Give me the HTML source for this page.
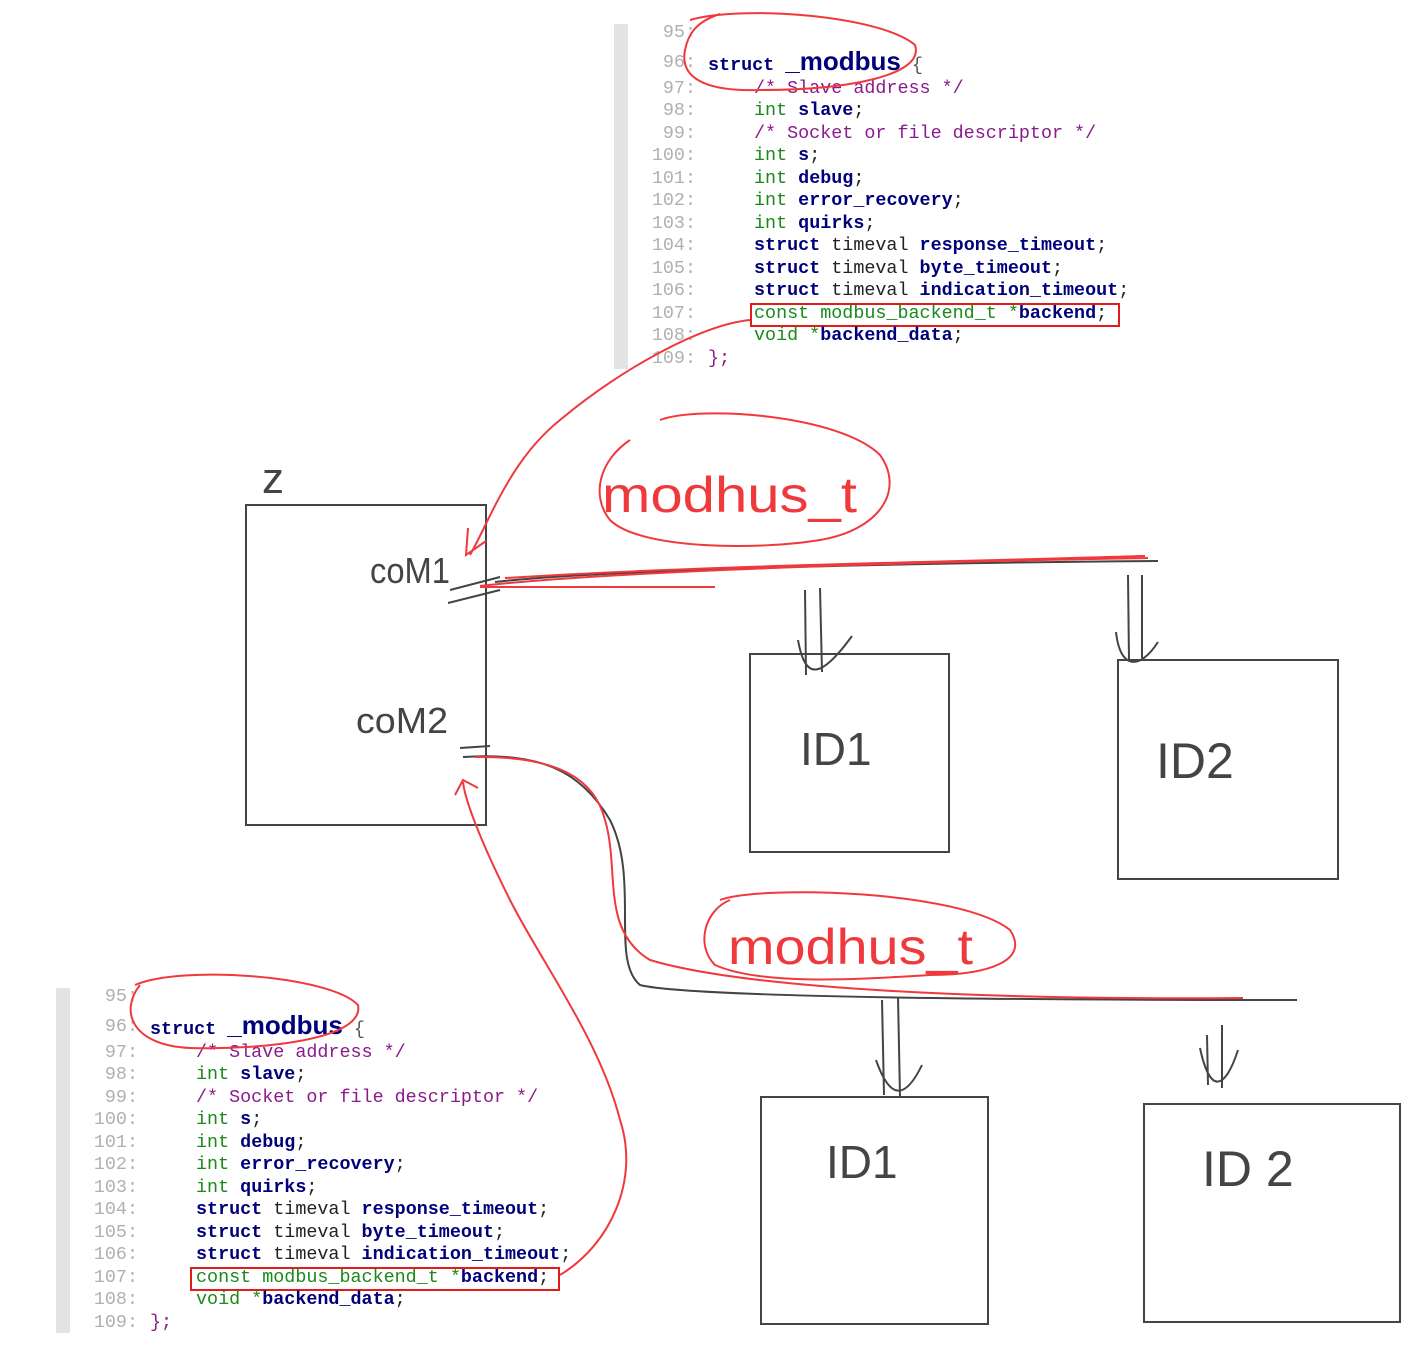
<!DOCTYPE html>
<html><head><meta charset="utf-8"><style>
body{margin:0;width:1427px;height:1348px;background:#fff;position:relative;overflow:hidden;font-family:"Liberation Mono",monospace}
.blk{position:absolute;width:560px;height:360px}
.bar{position:absolute;left:0;top:0;width:14px;height:345px;background:#e3e3e3}
.ln{position:absolute;left:14px;width:68px;text-align:right;color:#b0b0b0;font-size:18.4px;line-height:22.5px}
.cd{position:absolute;font-size:18.4px;line-height:22.5px;white-space:pre;color:#222}
.k{color:#1a8a1a}.b{color:#00007a;font-weight:bold}.c{color:#8b1a8b}.s{color:#00007a;font-weight:bold}
.big{font-family:"Liberation Sans",sans-serif;font-size:26px;font-weight:bold;color:#00007a}
.box{position:absolute;border:2px solid #e21b1b;}
svg{position:absolute;left:0;top:0}
</style></head><body>

<div class="blk" style="left:614px;top:24px">
<div class="bar"></div>
<div class="ln" style="top:-2px">95:</div>
<div class="ln" style="top:28px">96:</div>
<div class="ln" style="top:54px">97:</div>
<div class="ln" style="top:76px">98:</div>
<div class="ln" style="top:99px">99:</div>
<div class="ln" style="top:121px">100:</div>
<div class="ln" style="top:144px">101:</div>
<div class="ln" style="top:166px">102:</div>
<div class="ln" style="top:189px">103:</div>
<div class="ln" style="top:211px">104:</div>
<div class="ln" style="top:234px">105:</div>
<div class="ln" style="top:256px">106:</div>
<div class="ln" style="top:279px">107:</div>
<div class="ln" style="top:301px">108:</div>
<div class="ln" style="top:324px">109:</div>
<div class="cd" style="left:94px;top:26px"><span class="s">struct</span> <span class="big">_modbus</span> <span style="color:#555">{</span></div>
<div class="cd" style="left:140px;top:54px"><span class="c">/* Slave address */</span></div>
<div class="cd" style="left:140px;top:76px"><span class="k">int</span> <span class="b">slave</span>;</div>
<div class="cd" style="left:140px;top:99px"><span class="c">/* Socket or file descriptor */</span></div>
<div class="cd" style="left:140px;top:121px"><span class="k">int</span> <span class="b">s</span>;</div>
<div class="cd" style="left:140px;top:144px"><span class="k">int</span> <span class="b">debug</span>;</div>
<div class="cd" style="left:140px;top:166px"><span class="k">int</span> <span class="b">error_recovery</span>;</div>
<div class="cd" style="left:140px;top:189px"><span class="k">int</span> <span class="b">quirks</span>;</div>
<div class="cd" style="left:140px;top:211px"><span class="b">struct</span> timeval <span class="b">response_timeout</span>;</div>
<div class="cd" style="left:140px;top:234px"><span class="b">struct</span> timeval <span class="b">byte_timeout</span>;</div>
<div class="cd" style="left:140px;top:256px"><span class="b">struct</span> timeval <span class="b">indication_timeout</span>;</div>
<div class="cd" style="left:140px;top:279px"><span class="k">const modbus_backend_t *</span><span class="b">backend</span>;</div>
<div class="box" style="left:136px;top:279px;width:366px;height:20px"></div>
<div class="cd" style="left:140px;top:301px"><span class="k">void *</span><span class="b">backend_data</span>;</div>
<div class="cd" style="left:94px;top:324px"><span class="c">};</span></div>
</div>

<div class="blk" style="left:56px;top:988px">
<div class="bar"></div>
<div class="ln" style="top:-2px">95:</div>
<div class="ln" style="top:28px">96:</div>
<div class="ln" style="top:54px">97:</div>
<div class="ln" style="top:76px">98:</div>
<div class="ln" style="top:99px">99:</div>
<div class="ln" style="top:121px">100:</div>
<div class="ln" style="top:144px">101:</div>
<div class="ln" style="top:166px">102:</div>
<div class="ln" style="top:189px">103:</div>
<div class="ln" style="top:211px">104:</div>
<div class="ln" style="top:234px">105:</div>
<div class="ln" style="top:256px">106:</div>
<div class="ln" style="top:279px">107:</div>
<div class="ln" style="top:301px">108:</div>
<div class="ln" style="top:324px">109:</div>
<div class="cd" style="left:94px;top:26px"><span class="s">struct</span> <span class="big">_modbus</span> <span style="color:#555">{</span></div>
<div class="cd" style="left:140px;top:54px"><span class="c">/* Slave address */</span></div>
<div class="cd" style="left:140px;top:76px"><span class="k">int</span> <span class="b">slave</span>;</div>
<div class="cd" style="left:140px;top:99px"><span class="c">/* Socket or file descriptor */</span></div>
<div class="cd" style="left:140px;top:121px"><span class="k">int</span> <span class="b">s</span>;</div>
<div class="cd" style="left:140px;top:144px"><span class="k">int</span> <span class="b">debug</span>;</div>
<div class="cd" style="left:140px;top:166px"><span class="k">int</span> <span class="b">error_recovery</span>;</div>
<div class="cd" style="left:140px;top:189px"><span class="k">int</span> <span class="b">quirks</span>;</div>
<div class="cd" style="left:140px;top:211px"><span class="b">struct</span> timeval <span class="b">response_timeout</span>;</div>
<div class="cd" style="left:140px;top:234px"><span class="b">struct</span> timeval <span class="b">byte_timeout</span>;</div>
<div class="cd" style="left:140px;top:256px"><span class="b">struct</span> timeval <span class="b">indication_timeout</span>;</div>
<div class="cd" style="left:140px;top:279px"><span class="k">const modbus_backend_t *</span><span class="b">backend</span>;</div>
<div class="box" style="left:134px;top:279px;width:366px;height:20px"></div>
<div class="cd" style="left:140px;top:301px"><span class="k">void *</span><span class="b">backend_data</span>;</div>
<div class="cd" style="left:94px;top:324px"><span class="c">};</span></div>
</div>

<svg width="1427" height="1348" viewBox="0 0 1427 1348" fill="none">
<g stroke="#444" stroke-width="2">
<rect x="246" y="505" width="240" height="320"/>
<rect x="750" y="654" width="199" height="198"/>
<rect x="1118" y="660" width="220" height="219"/>
<rect x="761" y="1097" width="227" height="227"/>
<rect x="1144" y="1104" width="256" height="218"/>
<path d="M450 590 L500 577 M448 603 L500 590"/>
<path d="M495 582 C600 570 900 563 1158 561"/>
<path d="M460 748 L490 746 M463 757 C540 752 580 770 610 820 C640 880 610 960 640 985 C680 995 900 1000 1297 1000"/>
<path d="M805 590 L806 675 M820 588 L822 672 M798 640 C805 680 820 680 852 636"/>
<path d="M1128 575 L1129 660 M1142 575 L1142 658 M1116 632 C1120 670 1140 670 1158 642"/>
<path d="M882 1000 L884 1095 M898 997 L900 1097 M876 1060 C890 1100 905 1100 922 1065"/>
<path d="M1207 1035 L1208 1085 M1222 1025 L1222 1088 M1200 1048 C1210 1095 1225 1090 1238 1050"/>
</g>
<g fill="#444" font-family="Liberation Sans,sans-serif">
<text x="262" y="493" font-size="44">z</text>
<text x="370" y="583" font-size="36" textLength="80" lengthAdjust="spacingAndGlyphs">coM1</text>
<text x="356" y="733" font-size="36" textLength="92" lengthAdjust="spacingAndGlyphs">coM2</text>
<text x="800" y="765" font-size="46">ID1</text>
<text x="1156" y="778" font-size="50">ID2</text>
<text x="826" y="1178" font-size="46">ID1</text>
<text x="1202" y="1186" font-size="50">ID 2</text>
</g>
<g stroke="#f0393c" stroke-width="2">
<path d="M690 20 C740 5 880 15 915 45 C925 75 850 90 760 90 C700 92 680 75 685 50 C688 35 695 22 720 14"/>
<path d="M135 985 C180 965 330 975 358 1005 C365 1040 260 1050 190 1048 C130 1045 120 1010 140 985"/>
<path d="M750 320 C700 325 620 370 560 420 C510 460 490 520 470 555 M468 528 L466 555 L486 541"/>
<path d="M560 1275 C610 1245 640 1180 620 1120 C600 1040 540 960 510 900 C480 840 465 800 463 782 M455 795 L463 780 L478 788"/>
<path d="M480 586 C600 572 900 562 1148 558 M505 578 C700 566 900 563 1145 556 M480 587 L715 587"/>
<path d="M475 757 C560 756 595 780 605 820 C620 870 600 930 650 960 C750 990 1000 1000 1243 998"/>
<path d="M660 420 C700 405 840 415 880 455 C905 490 880 530 820 540 C760 550 640 550 610 520 C590 495 600 460 630 440"/>
<path d="M720 900 C760 885 960 890 1010 930 C1030 960 990 975 930 975 C850 980 760 985 715 965 C695 945 705 910 730 900"/>
</g>
<g fill="#f0393c" font-family="Liberation Sans,sans-serif">
<text x="602" y="512" font-size="50" textLength="255" lengthAdjust="spacingAndGlyphs">modhus_t</text>
<text x="728" y="964" font-size="50" textLength="245" lengthAdjust="spacingAndGlyphs">modhus_t</text>
</g>
</svg>
</body></html>
